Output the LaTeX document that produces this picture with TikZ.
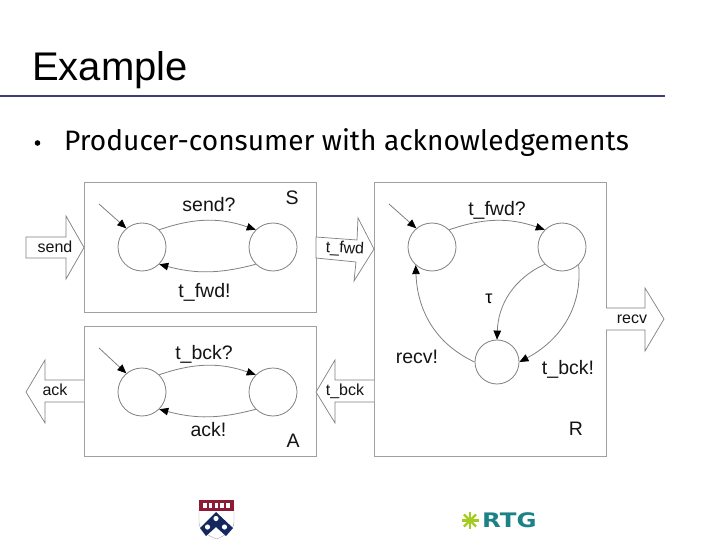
\documentclass[tikz,border=0pt]{standalone}
\usepackage{fontspec}
\setmainfont{Liberation Sans}
\newfontfamily\bodyfont{Fira Sans}
\newfontfamily\logofont{DejaVu Sans}
\usetikzlibrary{arrows.meta}
\definecolor{rulecol}{HTML}{3C3C80}
\definecolor{edgecol}{HTML}{808080}
\definecolor{boxcol}{HTML}{A0A0A0}
\definecolor{pennred}{HTML}{8E1B36}
\definecolor{pennblue}{HTML}{14285F}
\definecolor{rtgteal}{HTML}{1C8288}
\definecolor{rtggreen}{HTML}{A4CC20}
\tikzset{
  x=1pt,y=-1pt,
  panel/.style={draw=boxcol,line width=1pt,fill=white},
  blockarrow/.style={draw=edgecol,line width=0.7pt,fill=white,line join=miter},
  stnode/.style={circle,draw=edgecol,line width=0.8pt,fill=white,minimum size=48pt,inner sep=0pt},
  smallst/.style={stnode,minimum size=44pt},
  trans/.style={draw=edgecol,line width=0.8pt,-{Stealth[length=9pt,width=7.5pt,inset=0pt,color=black]}},
  lab/.style={inner sep=0pt,font=\fontsize{19.5}{22}\selectfont,text=black!92},
  arrlab/.style={inner sep=0pt,font=\fontsize{16}{18}\selectfont,text=black!92},
}
\begin{document}
\begin{tikzpicture}
\useasboundingbox (0,0) rectangle (720,540);
\fill[white] (0,0) rectangle (720,540);
% title
\node[anchor=base west,inner sep=0pt,font=\fontsize{40}{44}\selectfont] (title) at (32,81) {Example};
\draw[rulecol,line width=1.3pt] (0,96) -- (665,96);
\fill[black] (37.5,143) circle (2.8pt);
\node[anchor=base west,inner sep=0pt,font=\bodyfont\fontsize{28.1}{30}\selectfont] (bullet) at (64,151) {Producer-consumer with acknowledgements};
% panels
\draw[panel] (84,183) rectangle (316,312);
\draw[panel] (84,326) rectangle (316,456);
\draw[panel] (374,183) rectangle (606,456);
% block arrows
\draw[blockarrow] (26,237) -- (66,237) -- (66,216) -- (84,247.5) -- (66,279) -- (66,258) -- (26,258) -- cycle;
\draw[blockarrow] (316,237) -- (357,240) -- (358,218) -- (374,249) -- (354,281) -- (356,262) -- (316,258) -- cycle;
\draw[blockarrow] (84,380) -- (45,380) -- (45,360) -- (26,392) -- (45,423) -- (45,402) -- (84,402);
\draw[blockarrow] (374,380) -- (335,380) -- (335,360) -- (316,392) -- (335,423) -- (335,402) -- (374,402);
\draw[blockarrow] (606,308) -- (645,308) -- (645,288) -- (664,319) -- (645,351) -- (645,330) -- (606,330);
\node[arrlab] (lsend) at (55,247) {send};
\node[arrlab,rotate=-3] (ltfwd) at (345,249) {t\_fwd};
\node[arrlab] (lack) at (55,390) {ack};
\node[arrlab] (ltbck) at (345,391) {t\_bck};
\node[arrlab] (lrecv) at (632,319) {recv};
% S
\node[stnode] (s1) at (142,247) {};
\node[stnode] (s2) at (273,247) {};
\coordinate (si) at (99,204);
\draw[trans] (si) -- (s1.130);
\draw[trans] (s1.45) to[out=19,in=161] (s2.135);
\draw[trans] (s2.225) to[out=195,in=-15] (s1.-45);
\node[lab] (l1) at (209,205) {send?};
\node[lab] (l2) at (204.5,292) {t\_fwd!};
\node[lab] (nS) at (292,198) {S};
% A
\node[stnode] (a1) at (142,392) {};
\node[stnode] (a2) at (273,392) {};
\coordinate (ai) at (99,348);
\draw[trans] (ai) -- (a1.130);
\draw[trans] (a1.45) to[out=19,in=161] (a2.135);
\draw[trans] (a2.225) to[out=195,in=-15] (a1.-45);
\node[lab] (l3) at (204,354) {t\_bck?};
\node[lab] (l4) at (208.5,430) {ack!};
\node[lab] (nA) at (293,441) {A};
% R
\node[stnode] (r1) at (432,247) {};
\node[stnode] (r2) at (562,247) {};
\node[smallst] (r3) at (497,362) {};
\coordinate (ri) at (389,204);
\draw[trans] (ri) -- (r1.130);
\draw[trans] (r1.45) to[out=19,in=161] (r2.135);
\draw[trans] (r2.225) to[out=205,in=88] (r3.90);
\draw[trans] (r2.-47) to[out=-85,in=28] (r3.0);
\draw[trans] (r3.180) to[out=155,in=-88] (r1.228);
\node[lab] (l5) at (497,210) {t\_fwd?};
\node[inner sep=0pt,font=\fontsize{18}{20}\selectfont] (l6) at (489,299) {τ};
\node[lab] (l7) at (417,357) {recv!};
\node[lab] (l8) at (568,369) {t\_bck!};
\node[lab] (nR) at (576,429) {R};
% Penn shield
\draw[black!35,fill=white,line width=0.4pt] (199,510) -- (234,510) -- (234,522) .. controls (234,531) and (224,536) .. (216.5,539) .. controls (209,536) and (199,531) .. (199,522) -- cycle;
\fill[pennred] (199,500) rectangle (234,511);
\foreach \cx in {205,210.5,216.5,222,228}{\fill[white] (\cx-1.8,503) rectangle (\cx+1.8,508);}
\fill[pennblue] (216,512) -- (233,528) -- (226,536) -- (216,527) -- (206,536) -- (200,528) -- cycle;
\fill[white] (216,518.5) circle (2.6pt) (207.5,527) circle (2.6pt) (224.5,527) circle (2.6pt);
% RTG logo
\foreach \ang in {0,45,...,315}{\draw[rtggreen,line width=2.4pt] (470,520.5) -- ++(\ang:8.5);}
\node[anchor=west,inner sep=0pt,text=rtgteal,font=\logofont\bfseries\fontsize{20}{20}\selectfont] (rtg) at (482,520.5) {\scalebox{1.22}[1]{RTG}};
\end{tikzpicture}
\end{document}
